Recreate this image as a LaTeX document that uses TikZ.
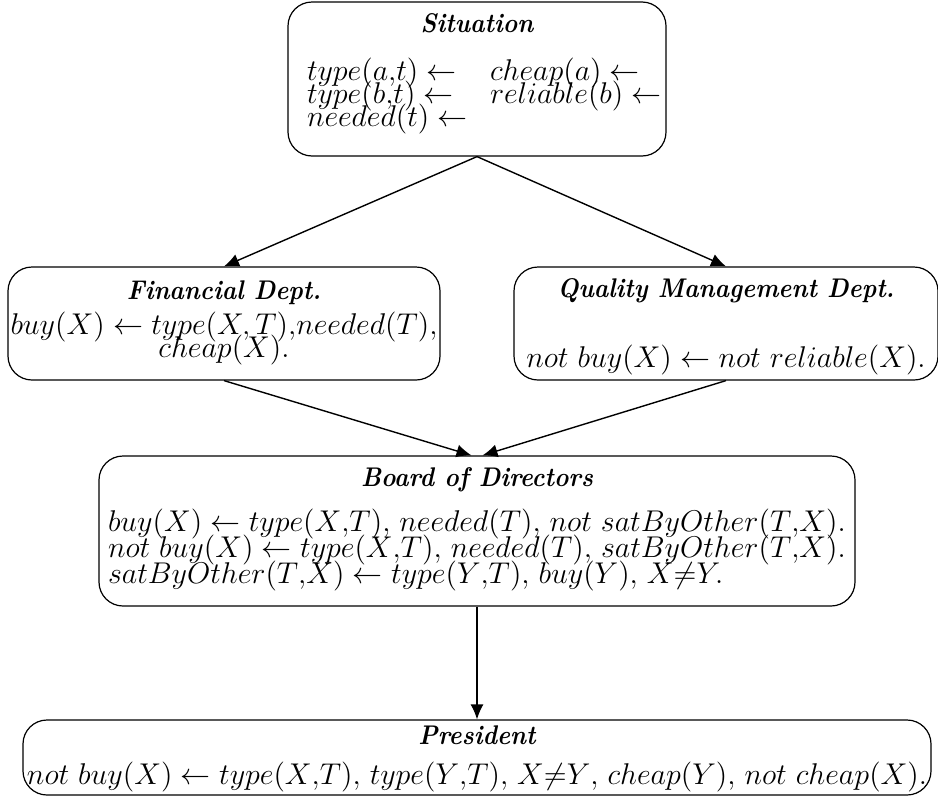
\RequirePackage{fix-cm}
\documentclass[tikz,border=0pt]{standalone}
\usepackage{fontspec}
\usetikzlibrary{arrows.meta}

\newcommand{\deptfont}{\fontsize{15}{11.5}\selectfont\lineskiplimit-20pt\relax}
\newcommand{\depttitle}[2][10.5pt]{\rule{0pt}{#1}\scalebox{0.91}[1]{\fontsize{13.5}{11.5}\selectfont\bfseries\itshape #2}}
\newcommand{\sink}[1]{\rule[-#1]{0pt}{0pt}}
\tikzset{
  dept/.style={draw, rounded corners=12pt, line width=0.6pt, inner sep=0pt, align=center,
    font=\deptfont},
  flow/.style={-{Latex[length=7.5pt,width=6.5pt]}, line width=0.7pt},
}

\begin{document}
\begin{tikzpicture}[x=0.5pt,y=-0.5pt]
	\useasboundingbox (0,0) rectangle (938,798);

	% the facts
	\node[dept, minimum width=189pt, minimum height=77pt] (situation) at (477,79)
		{\depttitle{Situation}\\[12.5pt]
		 \makebox[170pt][l]{\makebox[91.5pt][l]{$type(a{,}t)\leftarrow$}$cheap(a)\leftarrow$}\\
		 \makebox[170pt][l]{\makebox[91.5pt][l]{$type(b{,}t)\leftarrow$}$reliable(b)\leftarrow$}\\
		 \makebox[170pt][l]{$needed(t)\leftarrow$}\sink{10pt}};

	% the two departments
	\node[dept, minimum width=216pt, minimum height=56.5pt] (financial) at (224,323.5)
		{\depttitle{Financial Dept.}\\[6pt]
		 $buy(X)\leftarrow type(X,T){,}needed(T){,}$\\
		 $cheap(X).$\sink{5.75pt}};
	\node[dept, minimum width=212pt, minimum height=56.5pt] (quality) at (726,323.5)
		{\depttitle[14.5pt]{Quality Management Dept.}\\[23.5pt]
		 $not\ buy(X)\leftarrow not\ reliable(X).$\sink{5.75pt}};

	% the board
	\node[dept, minimum width=378pt, minimum height=75pt] (board) at (477,531)
		{\depttitle{Board of Directors}\\[11pt]
		 \makebox[369pt][l]{$buy(X)\leftarrow type(X{,}T){,}\ needed(T){,}\ not\ satByOther(T{,}X).$}\\[1.5pt]
		 \makebox[369pt][l]{$not\ buy(X)\leftarrow type(X{,}T){,}\ needed(T){,}\ satByOther(T{,}X).$}\\[1.5pt]
		 \makebox[369pt][l]{$satByOther(T{,}X)\leftarrow type(Y{,}T){,}\ buy(Y){,}\ X{\neq}Y.$}\sink{6.25pt}};

	\node[dept, minimum width=454pt, minimum height=37.5pt] (president) at (477,757.5)
		{\depttitle{President}\\[8.5pt]
		 $not\ buy(X)\leftarrow type(X{,}T){,}\ type(Y{,}T){,}\ X{\neq}Y{,}\ cheap(Y){,}\ not\ cheap(X).$};

	\draw[flow] (situation.south) -- (financial.north);
	\draw[flow] (situation.south) -- (quality.north);
	\draw[flow] (financial.south) -- ([xshift=-2.75pt]board.north);
	\draw[flow] (quality.south) -- ([xshift=2.75pt]board.north);
	\draw[flow] (board.south) -- (president.north);
\end{tikzpicture}
\end{document}
